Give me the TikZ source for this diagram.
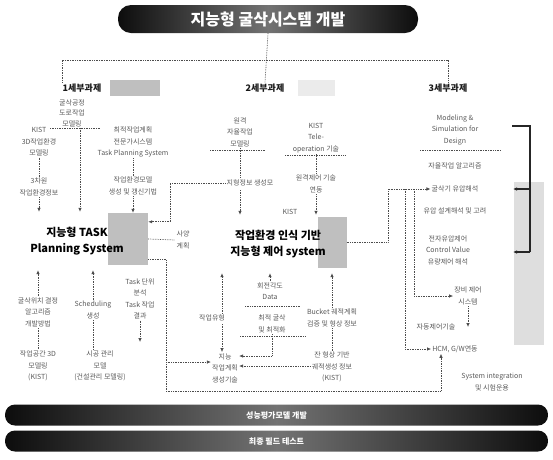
\documentclass[tikz,border=0pt]{standalone}
\usepackage{fontspec}
\setmainfont{Noto Sans CJK KR}
\usetikzlibrary{arrows.meta,calc}
\begin{document}
\begin{tikzpicture}[x=1pt,y=-1pt,
  txt/.style={font=\fontsize{7}{11.5}\selectfont, text=black!65, align=center, inner sep=1pt},
  hdr/.style={font=\fontsize{9}{10}\selectfont\bfseries, text=black!90, inner sep=1pt},
  mainbox/.style={font=\fontsize{11}{15.5}\selectfont\bfseries, align=center, inner sep=2pt, minimum height=58pt},
  dotln/.style={densely dotted, line width=0.7pt, black!70},
  thk/.style={line width=1.4pt, black!85},
  arr/.style={-{Latex[length=4pt,width=3.5pt]}},
  shadebox/.style={fill=black!25, draw=none, inner sep=0pt},
  banner/.style={rounded corners=10pt, left color=black!95, right color=black!95, middle color=black!55, text=white, font=\bfseries}
]
\useasboundingbox (0,0) rectangle (553,459);

% ---------- banners ----------
\node[banner, minimum width=300pt, minimum height=28pt, rounded corners=13pt, font=\fontsize{16}{18}\selectfont\bfseries] (title) at (268,19) {지능형 굴삭시스템 개발};
\node[banner, minimum width=543pt, minimum height=21pt, font=\fontsize{8}{9}\selectfont\bfseries] (bar1) at (276.5,415) {성능평가모델 개발};
\node[banner, minimum width=543pt, minimum height=21pt, font=\fontsize{8}{9}\selectfont\bfseries] (bar2) at (276.5,441) {최종 필드 테스트};

% ---------- headers ----------
\fill[black!25] (110,80) rectangle (160,96);
\fill[black!8] (298,80) rectangle (335,96);
\node[hdr] (h1) at (82,88) {1세부과제};
\node[hdr] (h2) at (265,88) {2세부과제};
\node[hdr] (h3) at (448,88) {3세부과제};
\coordinate (j) at (265,60);
\draw[dotln] (title.south) -- (h2.north);
\draw[dotln] ([xshift=-20pt]h1.north) -- ([xshift=-20pt]h1.north |- j) -- (h3.north |- j) -- (h3.north);

% ---------- shaded blocks ----------
\node[shadebox, minimum width=40pt, minimum height=52pt] (sh1) at (128,239) {};
\node[shadebox, minimum width=29pt, minimum height=51pt] (sh2) at (332,242) {};
\node[shadebox, fill=black!13, minimum width=30pt, minimum height=163pt] (sh3) at (529,263) {};

% ---------- main systems ----------
\node[mainbox] (main1) at (77,241) {지능형 TASK\\Planning System};
\node[mainbox] (main2) at (278,244) {작업환경 인식 기반\\지능형 제어 system};

% ---------- column 1 ----------
\node[txt, font=\fontsize{7}{10.5}\selectfont] (c1top) at (72,113) {굴삭공정\\도로작업\\모델링};
\draw[dotln] (50,128) -- (100,128);
\draw[dotln,arr] ([xshift=8pt]c1top.south) -- ([xshift=8pt]c1top.south |- main1.north);

\node[txt] (c1L1) at (39,142) {KIST\\3D작업환경\\모델링};
\node[txt] (c1L2) at (39,187) {3차원\\작업환경정보};
\draw[dotln] (c1L1.south) -- (c1L2.north);
\draw[dotln,arr] (c1L2.south) -- (c1L2.south |- main1.north);

\node[txt] (c1R1) at (133,142) {최적작업계획\\전문가시스템\\Task Planning System};
\node[txt] (c1R2) at (133,186) {작업환경모델\\생성 및 갱신기법};
\draw[dotln] (c1R1.south) -- (c1R2.north);
\draw[dotln,arr] (c1R2.south) -- (c1R2.south |- sh1.north);

\node[txt] (sayang) at (183,240) {사양\\계획};
\draw[dotln] (sh1.east) -- (sayang.west);

% lower column 1
\node[txt] (lowL1) at (38,312) {굴삭위치 결정\\알고리즘\\개발방법};
\node[txt] (lowL2) at (38,366) {작업공간 3D\\모델링\\(KIST)};
\draw[dotln] (lowL1.south) -- (lowL2.north);
\draw[dotln,arr] (lowL1.north) -- (lowL1.north |- main1.south);

\node[txt] (lowM1) at (93,310) {Scheduling\\생성};
\node[txt] (lowM2) at (100,366) {시공 관리\\모델\\(건설관리 모델링)};
\draw[dotln] (lowM1.south) -- (lowM1.south |- lowM2.north);
\draw[dotln,arr] (lowM1.north) -- (lowM1.north |- main1.south);

\node[txt] (lowR) at (140,299) {Task 단위\\분석\\Task 작업\\결과};
\coordinate (lowRend) at (140,342);
\draw[dotln,arr] (lowR.south) -- (lowRend);

% ---------- column 2 ----------
\node[txt] (c2L1) at (240,132) {원격\\자율작업\\모델링};
\draw[dotln] (210,150) -- (265,150);
\node[txt] (c2m) at (250,183) {지형정보 생성모};
\draw[dotln] (c2L1.south -| 240,0) -- (240,177);
\draw[dotln,arr] (240,190) -- (240,0 |- main2.north);
\draw[dotln,arr] (c2m.west) -| ([xshift=22pt,yshift=-9pt]sh1.north east) -- ([yshift=-9pt]sh1.north east);

\node[txt] (c2R1) at (316,138) {KIST\\Tele-\\operation 기술};
\draw[dotln] (285,155) -- (345,155);
\node[txt] (c2R2) at (316,184) {원격제어 기술\\연동};
\draw[dotln] (c2R1.south) -- (c2R2.north);
\draw[dotln,arr] (c2R2.south) -- (c2R2.south |- main2.north);
\node[txt] (kist2) at (290,212) {KIST};

% lower column 2
\node[txt] (lowa) at (212,318) {작업유형};
\node[txt] (jayul) at (225,368) {지능\\작업계획\\생성기술};
\draw[dotln,arr] (lowa.north -| 222,0) -- (222,0 |- main2.south);
\draw[dotln,arr] (222,324) -- (222,0 |- jayul.north);

\node[txt] (lowb1) at (270,291) {회전각도\\Data};
\draw[dotln,arr] (lowb1.north) -- (lowb1.north |- main2.south);
\draw[dotln] (245,306) -- (300,306);
\node[txt] (lowb2) at (272,324) {최적 굴삭\\및 최적화};
\draw[dotln] (240,336) -- (305,336);
\coordinate (je1) at ([yshift=12pt]jayul.east);
\coordinate (je2) at ([yshift=2pt]jayul.east);
\draw[dotln,arr] (lowb2.south) |- (je1);

\node[txt] (lowc1) at (332,318) {Bucket 궤적계획\\검증 및 형상 정보};
\node[txt] (lowc2) at (332,367) {잔 형상 기반\\궤적생성 정보\\(KIST)};
\draw[dotln] (lowc1.south) -- (lowc2.north);
\draw[dotln,arr] (lowc1.north) -- (lowc1.north |- main2.south);
\draw[dotln,arr] (lowc2.west |- je2) -- (je2);

% ---------- column 3 ----------
\node[txt] (c3a) at (455,130) {Modeling \&\\Simulation for\\Design};
\draw[dotln] (420,150) -- (500,150);
\node[txt] (c3b) at (455,166) {자율작업 알고리즘};
\node[txt] (c3c) at (455,189) {굴삭기 유압해석};
\node[txt] (c3d) at (455,211) {유압 설계해석 및 고려};
\node[txt] (c3e) at (448,250) {전자유압제어\\Control Value\\유량제어 해석};
\node[txt] (c3f) at (468,296) {장비 제어\\시스템};
\node[txt] (c3g) at (436,327) {자동제어기술};
\node[txt] (c3h) at (455,349) {HCM, G/W연동};
\node[txt] (c3i) at (492,382) {System integration\\및 시험운용};

\coordinate (t0) at (512,126);
\coordinate (t1) at (530,126);
\coordinate (a1) at (513,189);
\coordinate (a2) at (513,252);
\draw[thk] (t0) -- (t1) -- (t1 |- a2);
\draw[thk,arr] (t1 |- a1) -- (a1);
\draw[thk,arr] (t1 |- a2) -- (a2);

\draw[dotln,arr] (c3f.south) -- (c3f.south |- c3g);

\coordinate (bx) at (388,189);
\draw[dotln,arr] (sh2.east) -| (bx) -- (c3c.west);
\draw[dotln,arr] ([xshift=17pt]bx) |- (c3h.west);
\draw[dotln,arr] ([xshift=26pt]bx) |- (c3f.west);

% ---------- bottom loop ----------
\coordinate (lp1) at (166,391);
\coordinate (jw) at ([yshift=6pt]jayul.west);
\draw[dotln,arr] ([yshift=6pt]sh1.south east) -| (lp1) -| ([xshift=-14pt]c3h.south);
\draw[dotln,arr] (lp1 |- jw) -- (jw);
\end{tikzpicture}
\end{document}
